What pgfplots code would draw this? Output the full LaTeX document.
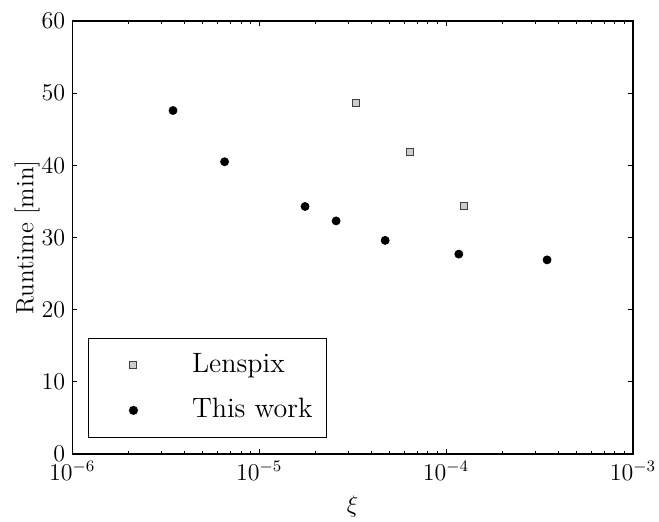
\documentclass[border=0pt]{standalone}
\usepackage{pgfplots}
\pgfplotsset{compat=1.18}
\begin{document}
\begin{tikzpicture}
\begin{semilogxaxis}[
  scale only axis,
  width=280.35pt, height=216.5pt,
  xmin=1e-6, xmax=1e-3,
  ymin=0, ymax=60,
  ytick={0,10,20,30,40,50,60},
  axis line style={line width=0.6pt},
  every tick/.style={black, line width=0.5pt},
  major tick length=2.5pt,
  minor tick length=1.5pt,
  tick align=inside,
  ticklabel style={font=\fontsize{11.5}{13}\selectfont},
  label style={font=\fontsize{12.5}{15}\selectfont},
  xlabel={$\xi$},
  ylabel={Runtime [min]},
  xlabel style={at={(axis description cs:0.5,-0.134)}, anchor=base},
  ylabel style={at={(axis description cs:-0.0695,0.5)}, anchor=base},
  legend cell align=left,
  legend style={
    at={(axis description cs:0.0285,0.037)}, anchor=south west,
    draw=black, line width=0.6pt,
    inner xsep=7pt, inner ysep=7pt,
    row sep=9.5pt,
    font=\fontsize{14}{16}\selectfont,
    nodes={inner sep=0pt, text height=10pt, text depth=3pt},
    /tikz/every odd column/.style={column sep=14pt},
  },
  legend image code/.code={
    \path (0pt,0pt) (30pt,0pt);
    \draw[mark repeat=2, mark phase=2, line width=0.5pt] plot coordinates {(0pt,0pt) (15pt,0pt) (30pt,0pt)};
  },
]
\addplot[only marks, mark=square*, mark size=1.75pt, mark options={fill=black!20, draw=black!75, line width=0.5pt}]
  coordinates {(3.29e-5,48.7) (6.40e-5,41.8) (1.24e-4,34.4)};
\addlegendentry{Lenspix}
\addplot[only marks, mark=*, mark size=2pt, mark options={fill=black, draw=black}]
  coordinates {(3.46e-6,47.6) (6.53e-6,40.5) (1.76e-5,34.3) (2.58e-5,32.3) (4.72e-5,29.6) (1.17e-4,27.7) (3.47e-4,26.9)};
\addlegendentry{This work}
\end{semilogxaxis}
\pgfresetboundingbox
\useasboundingbox (-36.15pt,-33.5pt) rectangle (293.35pt,227pt);
\end{tikzpicture}
\end{document}
